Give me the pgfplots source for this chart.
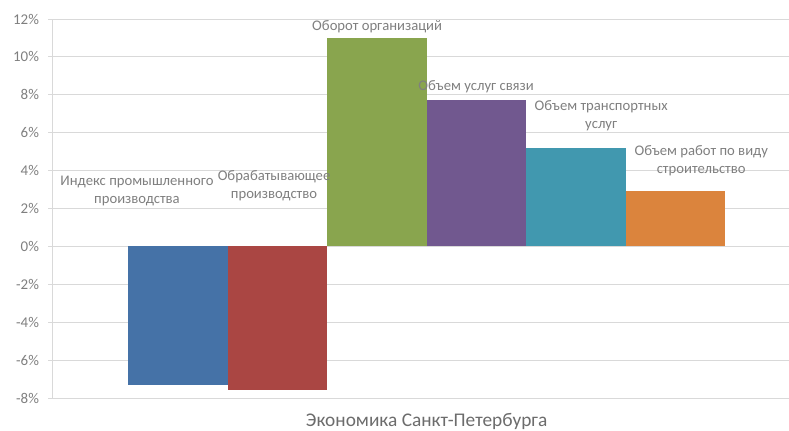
\documentclass[border=0pt]{standalone}
\usepackage{pgfplots}
\pgfplotsset{compat=1.18}
\usepackage{fontspec}
\setmainfont{Carlito}
\definecolor{cA}{HTML}{4572A7}
\definecolor{cB}{HTML}{AA4643}
\definecolor{cC}{HTML}{89A54E}
\definecolor{cD}{HTML}{71588F}
\definecolor{cE}{HTML}{4198AF}
\definecolor{cF}{HTML}{DB843D}
\definecolor{txt}{HTML}{7F7F7F}
\definecolor{grd}{HTML}{D9D9D9}
\newcommand{\lbl}{\fontsize{11}{13.5}\selectfont}
\begin{document}
\begin{tikzpicture}
\pgfplotsset{onebar/.style={ybar, bar width=1, bar shift=0pt, draw=none}}
\begin{axis}[
    scale only axis,
    width=552pt, height=284.25pt,
    xmin=-1.254, xmax=6.141,
    ymin=-8, ymax=12,
    axis x line=none,
    axis y line*=left,
    y axis line style={draw=grd, line width=0.75pt},
    ytick={-8,-6,...,12},
    yticklabels={-8\%,-6\%,-4\%,-2\%,0\%,2\%,4\%,6\%,8\%,10\%,12\%},
    yticklabel style={font=\fontsize{11.2}{13}\selectfont, text=txt, xshift=-3.5pt},
    ymajorgrids,
    grid style={draw=grd, line width=0.75pt},
    tick align=outside,
    major tick length=3.5pt,
    ytick style={draw=grd, line width=0.75pt},
    clip=false,
  ]
  \coordinate (bl) at (rel axis cs:0,0);
  \coordinate (tr) at (rel axis cs:1,1);
  \addplot[onebar, fill=cA] coordinates {(0,-7.3)};
  \addplot[onebar, fill=cB] coordinates {(1,-7.6)};
  \addplot[onebar, fill=cC] coordinates {(2,11.0)};
  \addplot[onebar, fill=cD] coordinates {(3,7.7)};
  \addplot[onebar, fill=cE] coordinates {(4,5.2)};
  \addplot[onebar, fill=cF] coordinates {(5,2.9)};
  \node[align=center, font=\lbl, text=txt] at (axis cs:-0.41,2.90) {Индекс промышленного\\производства};
  \node[align=center, font=\lbl, text=txt] at (axis cs:0.967,3.22) {Обрабатывающее\\производство};
  \node[align=center, font=\lbl, text=txt] at (axis cs:2.003,11.61) {Оборот организаций};
  \node[align=center, font=\lbl, text=txt] at (axis cs:2.997,8.44) {Объем услуг связи};
  \node[align=center, font=\lbl, text=txt] at (axis cs:4.254,6.91) {Объем транспортных\\услуг};
  \node[align=center, font=\lbl, text=txt] at (axis cs:5.259,4.54) {Объем работ по виду\\строительство};
  \node[font=\fontsize{14.5}{16}\selectfont, text=txt!85!black] at (axis cs:2.5,-8) [yshift=-17.5pt] {Экономика Санкт-Петербурга};
\end{axis}
\pgfresetboundingbox
\path[use as bounding box] ([xshift=-39.75pt,yshift=-24pt]bl) rectangle ([yshift=14.25pt]tr);
\end{tikzpicture}
\end{document}
